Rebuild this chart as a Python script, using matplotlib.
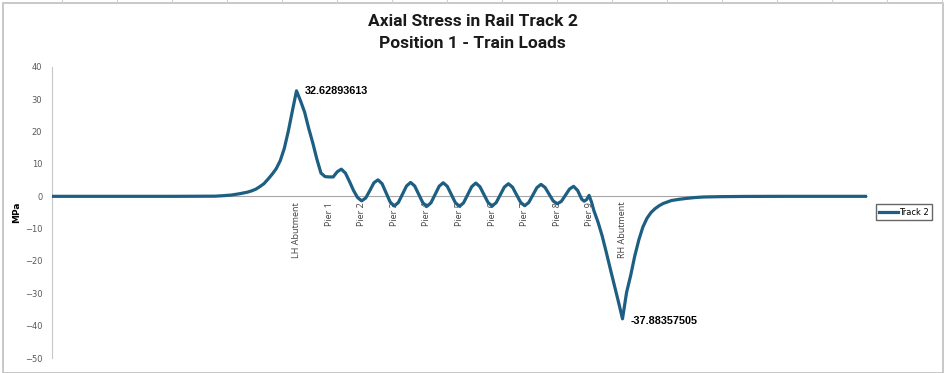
import numpy as np
import matplotlib.pyplot as plt
from matplotlib.patches import Rectangle
from matplotlib.lines import Line2D

# chainage along the track (m) and axial stress (MPa)
dist = [0, 50, 100, 150, 200, 210, 220, 230, 240, 245, 250, 255, 260, 265, 270,
        275, 280, 285, 290, 295, 300, 305, 310, 315, 320, 325, 330, 335, 340,
        345, 350, 355, 360, 365, 370, 375, 380, 385, 390, 395, 400, 405, 410,
        415, 420, 425, 430, 435, 440, 445, 450, 455, 460, 465, 470, 475, 480,
        485, 490, 495, 500, 505, 510, 515, 520, 525, 530, 535, 540, 545, 550,
        555, 560, 565, 570, 575, 580, 585, 590, 595, 600, 605, 610, 615, 620,
        625, 630, 635, 640, 645, 650, 653, 656, 659, 662, 665, 670, 675, 680,
        685, 690, 695, 700, 705, 710, 715, 720, 725, 730, 735, 740, 745, 750,
        760, 770, 780, 790, 800, 820, 850, 900, 950, 1000]
stress = [0, 0, 0, 0, 0.05, 0.2, 0.4, 0.8, 1.3, 1.7, 2.2, 3.0, 3.9, 5.3, 6.8,
          8.5, 11.0, 14.8, 20.2, 26.5, 32.62893613, 29.5, 26.0, 21.0, 16.5, 11.5, 7.2, 6.1, 6.0,
          6.0, 7.6, 8.4, 7.2, 4.6, 1.8, -0.4, -1.4, -0.5, 1.8, 4.2, 5.1, 3.9, 1.05,
          -1.8, -3.0, -1.9, 0.65, 3.2, 4.3, 3.2, 0.6, -2.0, -3.1, -2.0, 0.55, 3.1, 4.2,
          3.1, 0.55, -2.0, -3.1, -2.0, 0.5, 3.0, 4.1, 3.0, 0.55, -1.9, -3.0, -1.95, 0.45,
          2.85, 3.9, 2.85, 0.5, -1.85, -2.9, -1.9, 0.4, 2.7, 3.7, 2.75, 0.65, -1.45, -2.3,
          -1.55, 0.35, 2.25, 3.1, 1.8, -0.9, -1.5, -1.0, 0.3, -1.8, -4.5, -8.0, -12.2, -17.2,
          -22.4, -27.5, -32.6, -37.88357505, -29.7, -24.5, -18.5, -13.5, -9.5, -6.8, -5.0, -3.8, -2.9, -2.2,
          -1.3, -0.9, -0.6, -0.35, -0.2, -0.1, -0.03, 0, 0, 0]

# support labels along the category axis
support_names = ['LH Abutment', 'Pier 1', 'Pier 2', 'Pier 3', 'Pier 4', 'Pier 5',
                 'Pier 6', 'Pier 7', 'Pier 8', 'Pier 9', 'RH Abutment']
support_x = [300, 340, 380, 420, 460, 500, 540, 580, 620, 660, 700]

line_col = '#1d5f82'
grey = '#595959'

fig = plt.figure(figsize=(9.45, 3.73), dpi=100)
ax = fig.add_axes([52 / 945, 15 / 373, 815 / 945, 291 / 373])

x = np.array(dist)
y = np.array(stress)
ax.plot(x, y, color=line_col, lw=2.3, solid_capstyle='butt', zorder=3)

ax.set_xlim(0, 1000)
ax.set_ylim(-50, 40)
ax.set_yticks(np.arange(-50, 41, 10))
ax.tick_params(axis='y', length=0, labelsize=6, labelcolor=grey, pad=7)

# category axis crossing at zero
for s in ['top', 'right']:
    ax.spines[s].set_visible(False)
ax.spines['bottom'].set_position(('data', 0))
ax.spines['bottom'].set_color('#a6a6a6')
ax.spines['bottom'].set_linewidth(0.8)
ax.spines['left'].set_color('#c8c8c8')
ax.spines['left'].set_linewidth(0.8)
ax.set_xticks(support_x)
ax.set_xticklabels(support_names, rotation=90, fontsize=6.5, color='#404040',
                   family='Open Sans')
ax.tick_params(axis='x', length=0, pad=4)

ax.set_ylabel('MPa', fontsize=6.5, fontweight='bold')
ax.yaxis.set_label_coords(-0.038, 0.5)

# max / min data labels
i_max = int(np.argmax(y))
i_min = int(np.argmin(y))
ax.annotate(f'{stress[i_max]}', (x[i_max], y[i_max]), xytext=(6, 0),
            textcoords='offset points', fontsize=7.8, fontweight='bold',
            family='Liberation Sans', va='center', ha='left')
ax.annotate(f'{stress[i_min]}', (x[i_min], y[i_min]), xytext=(6, -1.5),
            textcoords='offset points', fontsize=7.8, fontweight='bold',
            family='Liberation Sans', va='center', ha='left')

fig.text(0.5, 1 - 22 / 373, 'Axial Stress in Rail Track 2', ha='center', va='center',
         fontsize=12.5, fontweight='bold', family='Roboto', color='#1a1a1a')
fig.text(0.5, 1 - 44 / 373, 'Position 1 - Train Loads', ha='center', va='center',
         fontsize=12.5, fontweight='bold', family='Roboto', color='#1a1a1a')

handle = Line2D([], [], color=line_col, lw=2.3)
fig.legend([handle], ['Track 2'], loc='center left', bbox_to_anchor=(876 / 945, 1 - 212 / 373),
           fontsize=6, frameon=True, fancybox=False, edgecolor='#404040',
           handlelength=2.2, handletextpad=0.2, borderpad=0.4, borderaxespad=0)

# chart frame and spreadsheet grid peeking above it
fig.patches.append(Rectangle((3 / 945, 0), 940 / 945, 370 / 373, transform=fig.transFigure,
                             fill=False, edgecolor='#bfbfbf', lw=1.2))
for gx in range(62, 945, 55):
    fig.add_artist(Line2D([gx / 945, gx / 945], [1 - 3 / 373, 1], transform=fig.transFigure,
                          color='#d0d0d0', lw=0.8))

fig.savefig('out.png', dpi=100)
